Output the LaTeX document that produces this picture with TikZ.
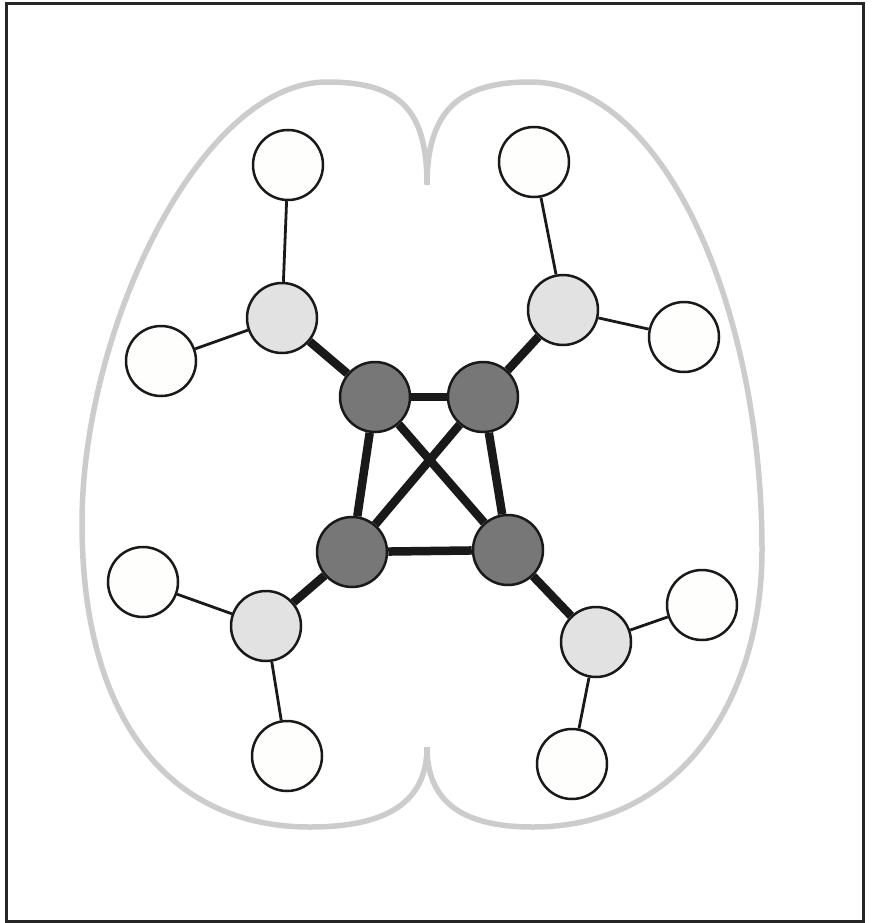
\documentclass[tikz,border=0pt]{standalone}
\usetikzlibrary{backgrounds}
\definecolor{darknode}{HTML}{777777}
\definecolor{lightnode}{HTML}{E2E2E2}
\definecolor{whitenode}{HTML}{FEFEFC}
\definecolor{outlinegray}{HTML}{CCCCCC}
\begin{document}
\begin{tikzpicture}[x=1pt,y=-1pt,
  hub/.style={circle,draw=black!90,line width=2.5pt,minimum size=70pt,inner sep=0pt,fill=darknode},
  mid/.style={circle,draw=black!90,line width=2.5pt,minimum size=70pt,inner sep=0pt,fill=lightnode},
  leaf/.style={circle,draw=black!90,line width=2.5pt,minimum size=70pt,inner sep=0pt,fill=whitenode},
  strong/.style={line width=8.5pt,draw=black!90},
  weak/.style={line width=2.8pt,draw=black!90},
  brain/.style={line width=5.5pt,draw=outlinegray}]
\useasboundingbox (0,0) rectangle (871,923);
\draw[line width=3pt,draw=black!85] (6.5,3.5) rectangle (863,921);
% brain outline
\draw[brain] (427,185) .. controls (427,110) and (400,82) .. (327,82)
  .. controls (200,82) and (82,330) .. (82,523)
  .. controls (82,720) and (170,827) .. (310,827)
  .. controls (390,827) and (427,800) .. (427,747)
  .. controls (427,800) and (460,827) .. (533,827)
  .. controls (680,827) and (762,700) .. (762,550)
  .. controls (762,310) and (665,82) .. (530,82)
  .. controls (460,82) and (427,110) .. (427,185);
% hubs
\node[hub] (h1) at (375,397) {};
\node[hub] (h2) at (483,397) {};
\node[hub] (h3) at (352,552) {};
\node[hub] (h4) at (508,550) {};
% mid nodes
\node[mid] (m1) at (282,318) {};
\node[mid] (m2) at (563,310) {};
\node[mid] (m3) at (266,626) {};
\node[mid] (m4) at (596,642) {};
% leaves
\node[leaf] (l1a) at (288,165) {};
\node[leaf] (l1b) at (161,361) {};
\node[leaf] (l2a) at (534,162) {};
\node[leaf] (l2b) at (684,337) {};
\node[leaf] (l3a) at (143,582) {};
\node[leaf] (l3b) at (287,756) {};
\node[leaf] (l4a) at (702,605) {};
\node[leaf] (l4b) at (572,764) {};
\begin{pgfonlayer}{background}
\draw[strong] (h1) -- (h2);
\draw[strong] (h3) -- (h4);
\draw[strong] (h1) -- (h3);
\draw[strong] (h2) -- (h4);
\draw[strong] (h1) -- (h4);
\draw[strong] (h2) -- (h3);
\draw[strong] (h1) -- (m1);
\draw[strong] (h2) -- (m2);
\draw[strong] (h3) -- (m3);
\draw[strong] (h4) -- (m4);
\draw[weak] (m1) -- (l1a);
\draw[weak] (m1) -- (l1b);
\draw[weak] (m2) -- (l2a);
\draw[weak] (m2) -- (l2b);
\draw[weak] (m3) -- (l3a);
\draw[weak] (m3) -- (l3b);
\draw[weak] (m4) -- (l4a);
\draw[weak] (m4) -- (l4b);
\end{pgfonlayer}
\end{tikzpicture}
\end{document}
